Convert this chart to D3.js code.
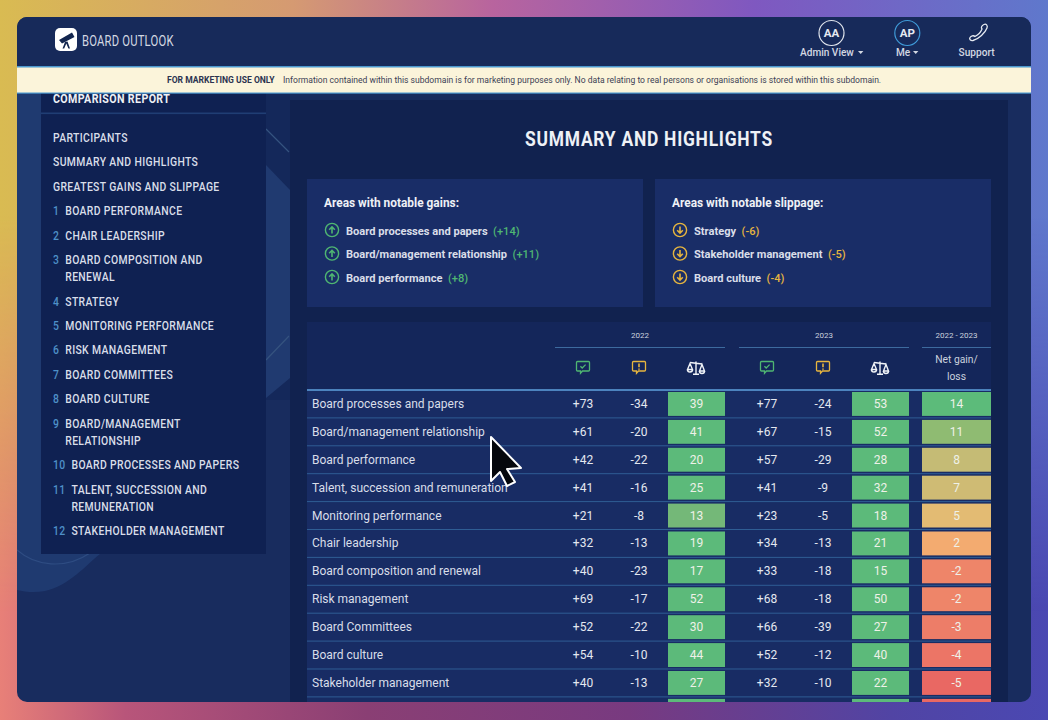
<!DOCTYPE html>
<html>
<head>
<meta charset="utf-8">
<title>Board Outlook</title>
<script src="https://cdnjs.cloudflare.com/ajax/libs/d3/7.8.5/d3.min.js"></script>
<style>
  html, body { margin: 0; padding: 0; background: #222; }
  svg { display: block; }
  text { font-family: Roboto, sans-serif; }
</style>
</head>
<body>
<div id="canvas"></div>
<script>
// Table data
var rowLabels = ["Board processes and papers", "Board/management relationship", "Board performance",
  "Talent, succession and remuneration", "Monitoring performance", "Chair leadership",
  "Board composition and renewal", "Risk management", "Board Committees", "Board culture",
  "Stakeholder management", "Strategy"];
var pos2022 = [73, 61, 42, 41, 21, 32, 40, 69, 52, 54, 40, null];
var neg2022 = [-34, -20, -22, -16, -8, -13, -23, -17, -22, -10, -13, null];
var bal2022 = [39, 41, 20, 25, 13, 19, 17, 52, 30, 44, 27, null];
var pos2023 = [77, 67, 57, 41, 23, 34, 33, 68, 66, 52, 32, null];
var neg2023 = [-24, -15, -29, -9, -5, -13, -18, -18, -39, -12, -10, null];
var bal2023 = [53, 52, 28, 32, 18, 21, 15, 50, 27, 40, 22, null];
var netGain = [14, 11, 8, 7, 5, 2, -2, -2, -3, -4, -5, -6];

// Highlights cards
var gainLabels = ["Board processes and papers", "Board/management relationship", "Board performance"];
var gainValues = [14, 11, 8];
var slipLabels = ["Strategy", "Stakeholder management", "Board culture"];
var slipValues = [-6, -5, -4];

// Sidebar
var navNumbers = ["", "", "", "1", "2", "3", "4", "5", "6", "7", "8", "9", "10", "11", "12"];
var navLines = [["PARTICIPANTS"], ["SUMMARY AND HIGHLIGHTS"], ["GREATEST GAINS AND SLIPPAGE"],
  ["BOARD PERFORMANCE"], ["CHAIR LEADERSHIP"], ["BOARD COMPOSITION AND", "RENEWAL"], ["STRATEGY"],
  ["MONITORING PERFORMANCE"], ["RISK MANAGEMENT"], ["BOARD COMMITTEES"], ["BOARD CULTURE"],
  ["BOARD/MANAGEMENT", "RELATIONSHIP"], ["BOARD PROCESSES AND PAPERS"],
  ["TALENT, SUCCESSION AND", "REMUNERATION"], ["STAKEHOLDER MANAGEMENT"]];

var width = 1048, height = 720;
var green = "#4fb672", amber = "#e6b53f", ink = "#d9dee9";

var svg = d3.select("#canvas").append("svg")
    .attr("width", width)
    .attr("height", height);
var defs = svg.append("defs");

function gradient(id, stops, vertical) {
  var g = defs.append("linearGradient").attr("id", id)
      .attr("x1", 0).attr("y1", 0).attr("x2", vertical ? 0 : 1).attr("y2", vertical ? 1 : 0);
  stops.forEach(function(s) {
    g.append("stop").attr("offset", s[0]).attr("stop-color", s[1]);
  });
}

// Backdrop: bottom colours with the top colours faded over them
gradient("bgBottom", [[0, "#e88078"], [0.12, "#b8557a"], [0.35, "#8a3f74"], [0.6, "#783a80"], [0.85, "#5144a4"], [1, "#4a48b2"]]);
gradient("bgTop", [[0, "#d9bb52"], [0.28, "#d59a72"], [0.47, "#b8649e"], [0.72, "#7f58c0"], [1, "#5f78cc"]]);
gradient("fade", [[0, "#fff"], [0.3, "#fff"], [0.85, "#000"]], true);
defs.append("mask").attr("id", "fadeMask").append("rect")
    .attr("width", width).attr("height", height).attr("fill", "url(#fade)");

svg.append("rect").attr("width", width).attr("height", height).attr("fill", "url(#bgBottom)");
svg.append("rect").attr("width", width).attr("height", height).attr("fill", "url(#bgTop)").attr("mask", "url(#fadeMask)");

// App window
defs.append("clipPath").attr("id", "win").append("rect")
    .attr("x", 17).attr("y", 17).attr("width", 1014).attr("height", 685).attr("rx", 10);
var win = svg.append("g").attr("clip-path", "url(#win)");

win.append("rect").attr("x", 17).attr("y", 17).attr("width", 1014).attr("height", 685).attr("fill", "#182c5e");

// No DIN style face here, so squeeze Roboto sideways
function dinText(x, y, size, squeeze) {
  return win.append("text")
      .attr("transform", "translate(" + x + "," + y + ") scale(" + squeeze + ",1)")
      .attr("font-size", size);
}

// Lighter shapes behind the sidebar
win.append("path").attr("fill", "#1f3a70")
    .attr("d", "M17,93H41V554H100C85,566 70,585 45,591C35,593 25,592 17,590Z");
win.append("path").attr("fill", "#14285a").attr("d", "M266,93H290V400L266,400Z");
win.append("path").attr("fill", "#203a70").attr("d", "M266,165L290,190V378L266,398Z");
win.append("path").attr("fill", "none").attr("stroke", "#2e4c82").attr("stroke-width", 1.2)
    .attr("d", "M17,550C35,566 65,570 90,553");
win.append("path").attr("fill", "none").attr("stroke", "#35537f").attr("stroke-width", 1.2)
    .attr("d", "M266,129L289,152M266,360L289,336");

// Sidebar panel
win.append("rect").attr("x", 41).attr("y", 93).attr("width", 225).attr("height", 461).attr("fill", "#0f2152");
win.append("rect").attr("x", 41).attr("y", 112.5).attr("width", 225).attr("height", 1.6).attr("fill", "#203e74");
dinText(53, 103, 13, 0.82)
    .attr("font-weight", 700).attr("letter-spacing", 0.45).attr("fill", "#eef1f6")
    .text("COMPARISON REPORT");

var navSqueeze = 0.8;
var navY = 142;
navLines.forEach(function(lines, i) {
  var x = 53;
  if (navNumbers[i]) {
    var num = dinText(53, navY, 13, navSqueeze)
        .attr("letter-spacing", 0.4).attr("font-weight", 500).attr("fill", "#4e90c8")
        .text(navNumbers[i]);
    x = 53 + num.node().getComputedTextLength() * navSqueeze + 6;
  }
  lines.forEach(function(line, j) {
    dinText(x, navY + j * 17.2, 13, navSqueeze)
        .attr("letter-spacing", 0.45).attr("font-weight", 500).attr("fill", ink)
        .text(line);
  });
  navY += 24.4 + (lines.length - 1) * 17.2;
});

// Main panel
win.append("rect").attr("x", 290).attr("y", 100).attr("width", 718).attr("height", 602).attr("fill", "#11224f");
dinText(649, 146, 21, 0.83).attr("text-anchor", "middle")
    .attr("font-weight", 700).attr("letter-spacing", 0.9).attr("fill", "#eef1f6")
    .text("SUMMARY AND HIGHLIGHTS");

// Up / down arrow in a ring
function arrowIcon(parent, cx, cy, colour, up) {
  var g = parent.append("g").attr("transform", "translate(" + cx + "," + cy + ")" + (up ? "" : " scale(1,-1)"));
  g.append("circle").attr("r", 6.6).attr("fill", "none").attr("stroke", colour).attr("stroke-width", 1.4);
  g.append("path").attr("d", "M0,3.6V-3M-2.8,-0.2L0,-3.2L2.8,-0.2").attr("fill", "none")
      .attr("stroke", colour).attr("stroke-width", 1.6);
}

function signed(v) {
  return (v > 0 ? "+" : "") + v;
}

function card(x, title, labels, values, colour, up) {
  win.append("rect").attr("x", x).attr("y", 179).attr("width", 336).attr("height", 128).attr("fill", "#192d67");
  win.append("text").attr("x", x + 17).attr("y", 207).attr("font-size", 11.9).attr("font-weight", 700)
      .attr("fill", "#eef1f6").text(title);
  var rowY = d3.scalePoint().domain(labels).range([230.5, 277.5]);
  labels.forEach(function(label, i) {
    arrowIcon(win, x + 25, rowY(label) - 0.5, colour, up);
    var t = win.append("text").attr("x", x + 39).attr("y", rowY(label) + 4).attr("font-size", 11.1)
        .attr("font-weight", 700).attr("fill", ink);
    t.append("tspan").text(label);
    t.append("tspan").attr("dx", 5.5).attr("fill", colour).attr("font-weight", 500)
        .text("(" + signed(values[i]) + ")");
  });
}
card(307, "Areas with notable gains:", gainLabels, gainValues, green, true);
card(655, "Areas with notable slippage:", slipLabels, slipValues, amber, false);

// Table
var columns = ["pos2022", "neg2022", "bal2022", "pos2023", "neg2023", "bal2023", "net"];
var xCol = d3.scaleOrdinal().domain(columns).range([583, 639, 696.5, 767, 823, 880.5, 956.5]);
var y = d3.scaleBand().domain(rowLabels).range([390, 724.8]);
var balColour = d3.scaleLinear().domain([13, 15]).range(["#74b878", "#5cba7a"]).clamp(true);
var netColour = d3.scaleLinear()
    .domain([-5, -4, -2, 2, 5, 8, 11, 14])
    .range(["#e96863", "#ec7566", "#ee8569", "#f3ab70", "#e3bb73", "#c5bb75", "#8fbb72", "#5cbb7a"])
    .clamp(true);

win.append("rect").attr("x", 307).attr("y", 322).attr("width", 684).attr("height", 68).attr("fill", "#14265a");
win.append("rect").attr("x", 307).attr("y", 390).attr("width", 684).attr("height", 312).attr("fill", "#182c64");

// Header groups
var headGroups = [["2022", 555, 725], ["2023", 739, 909], ["2022 - 2023", 922, 991]];
headGroups.forEach(function(h) {
  win.append("text").attr("x", (h[1] + h[2]) / 2).attr("y", 338).attr("text-anchor", "middle")
      .attr("font-size", 8).attr("fill", "#cbd2de").text(h[0]);
  win.append("line").attr("x1", h[1]).attr("x2", h[2]).attr("y1", 347.5).attr("y2", 347.5)
      .attr("stroke", "#3d6a9e");
});

function chatIcon(cx, cy, colour, check) {
  var g = win.append("g").attr("transform", "translate(" + cx + "," + cy + ")")
      .attr("fill", "none").attr("stroke", colour).attr("stroke-width", 1.3);
  g.append("path").attr("d", "M-5.5,-5.5H5.5C6.2,-5.5 6.5,-5.2 6.5,-4.5V3C6.5,3.7 6.2,4 5.5,4H-0.5L-2.5,6.2V4H-5.5C-6.2,4 -6.5,3.7 -6.5,3V-4.5C-6.5,-5.2 -6.2,-5.5 -5.5,-5.5Z");
  if (check) g.append("path").attr("d", "M-2.6,-0.8L-0.8,1L2.6,-2.4");
  else g.append("path").attr("d", "M0,-3.6V0.2M0,1.4V2.8").attr("stroke-width", 1.6);
}

function scalesIcon(cx, cy) {
  var g = win.append("g").attr("transform", "translate(" + cx + "," + cy + ")")
      .attr("fill", "none").attr("stroke", "#f0f3f8").attr("stroke-width", 1.4);
  g.append("path").attr("d", "M-6,-5.5L6,-4M0,-6.5V6M-3,6.3H3");
  g.append("path").attr("d", "M-6,-4.5L-8.5,1.5H-3.5ZM-8.5,1.5A2.5,2.5 0 0 0 -3.5,1.5");
  g.append("path").attr("d", "M6,-3.5L3.5,3H8.5ZM3.5,3A2.5,2.5 0 0 0 8.5,3");
}

[["pos2022", "neg2022", "bal2022"], ["pos2023", "neg2023", "bal2023"]].forEach(function(c) {
  chatIcon(xCol(c[0]), 367, green, true);
  chatIcon(xCol(c[1]), 367, amber, false);
  scalesIcon(xCol(c[2]) - 0.5, 368);
});

win.append("text").attr("x", xCol("net")).attr("y", 362.5).attr("text-anchor", "middle")
    .attr("font-size", 10.3).attr("fill", "#cbd2de").text("Net gain/");
win.append("text").attr("x", xCol("net")).attr("y", 380).attr("text-anchor", "middle")
    .attr("font-size", 10.3).attr("fill", "#cbd2de").text("loss");

win.append("line").attr("x1", 307).attr("x2", 991).attr("y1", 390).attr("y2", 390)
    .attr("stroke", "#5fa2de").attr("stroke-width", 1.5);

// Rows
var columnValues = {
  pos2022: pos2022, neg2022: neg2022, bal2022: bal2022,
  pos2023: pos2023, neg2023: neg2023, bal2023: bal2023, net: netGain
};

var rows = win.selectAll(".row").data(rowLabels).enter().append("g")
    .attr("class", "row")
    .attr("transform", function(d) { return "translate(0," + y(d) + ")"; });

rows.append("line").attr("x1", 307).attr("x2", 991)
    .attr("y1", y.bandwidth()).attr("y2", y.bandwidth())
    .attr("stroke", "#2f5d94");

rows.filter(function(d, i) { return pos2022[i] !== null; }).append("text")
    .attr("x", 312).attr("y", y.bandwidth() / 2 + 4)
    .attr("font-size", 12).attr("fill", ink)
    .text(function(d) { return d; });

columns.forEach(function(key) {
  var values = columnValues[key];
  var isBal = key === "bal2022" || key === "bal2023";
  var isNet = key === "net";
  var w = isNet ? 69 : 57;

  if (isBal || isNet) {
    rows.append("rect")
        .attr("x", xCol(key) - w / 2).attr("y", 2)
        .attr("width", w).attr("height", y.bandwidth() - 4)
        .attr("fill", function(d, i) {
          if (isNet) return netColour(values[i]);
          return values[i] === null ? "#5cba7a" : balColour(values[i]);
        });
  }

  rows.filter(function(d, i) { return values[i] !== null && pos2022[i] !== null; }).append("text")
      .attr("x", xCol(key)).attr("y", y.bandwidth() / 2 + 4)
      .attr("text-anchor", "middle")
      .attr("font-size", 12)
      .attr("fill", isBal || isNet ? "#eef1e8" : "#e4e8f0")
      .text(function(d) {
        var v = values[rowLabels.indexOf(d)];
        return key.indexOf("pos") === 0 ? signed(v) : v;
      });
});

// Top bar
win.append("rect").attr("x", 17).attr("y", 17).attr("width", 1014).attr("height", 50).attr("fill", "#172a5a");
win.append("rect").attr("x", 55).attr("y", 28).attr("width", 22).attr("height", 23).attr("rx", 5).attr("fill", "#fff");
win.append("path").attr("fill", "#13264f")
    .attr("d", "M59,40L72,32.5L74.5,37L62,43.5ZM65,42L62.5,48.5H64.2L66.3,43.5L68.4,48.5H70L67.5,41.5Z");
dinText(82, 45.5, 15.5, 0.725)
    .attr("letter-spacing", 0.3).attr("fill", "#d3d8e2")
    .text("BOARD OUTLOOK");

function avatar(cx, label, stroke) {
  win.append("circle").attr("cx", cx).attr("cy", 33).attr("r", 12.5).attr("fill", "none")
      .attr("stroke", stroke).attr("stroke-width", 1.2);
  win.append("text").attr("x", cx).attr("y", 37).attr("text-anchor", "middle")
      .attr("font-size", 11.5).attr("font-weight", 700).attr("fill", "#e6eaf1").text(label);
}
avatar(831.5, "AA", "#dfe4ec");
avatar(907.3, "AP", "#3f9ad8");

function navCaption(x, label, caretX) {
  win.append("text").attr("x", x).attr("y", 56).attr("font-size", 10.1).attr("font-weight", 500)
      .attr("fill", "#d3d8e2").text(label);
  if (caretX) {
    win.append("path").attr("d", "M" + caretX + ",51h5.4l-2.7,3z").attr("fill", "#d3d8e2");
  }
}
navCaption(800, "Admin View", 858);
navCaption(896, "Me", 913);
navCaption(958.6, "Support");
win.append("path").attr("fill", "none").attr("stroke", "#e6eaf1").attr("stroke-width", 1.3)
    .attr("d", "M984,24.5C986,23.5 988,25.5 987,28C985,33 979,39 973,40.5C970.5,41 969,39 970,37.5C971,36 973.5,35 975,36.5C978,35 981,31.5 982,29C980.5,27.5 982,25.5 984,24.5Z");

// Marketing banner
win.append("rect").attr("x", 17).attr("y", 67).attr("width", 1014).attr("height", 26).attr("fill", "#fbf4da");
win.append("rect").attr("x", 17).attr("y", 66).attr("width", 1014).attr("height", 1.5).attr("fill", "#4a98cf");
win.append("rect").attr("x", 17).attr("y", 92.5).attr("width", 1014).attr("height", 1.2).attr("fill", "#4a98cf");
win.append("text").attr("x", 167).attr("y", 82.7)
    .attr("font-family", "Liberation Sans").attr("font-size", 8.55).attr("font-weight", 700).attr("fill", "#2b3350")
    .text("FOR MARKETING USE ONLY");
win.append("text").attr("x", 283).attr("y", 82.7)
    .attr("font-family", "Liberation Sans").attr("font-size", 8.57).attr("fill", "#3c4155")
    .text("Information contained within this subdomain is for marketing purposes only. No data relating to real persons or organisations is stored within this subdomain.");

// Pointer
svg.append("path").attr("fill", "#05070c").attr("stroke", "#fff").attr("stroke-width", 2).attr("stroke-linejoin", "round")
    .attr("d", "M491,437L491,481L500,472L507,486L515,482L507,469L521,468Z");
</script>
</body>
</html>
